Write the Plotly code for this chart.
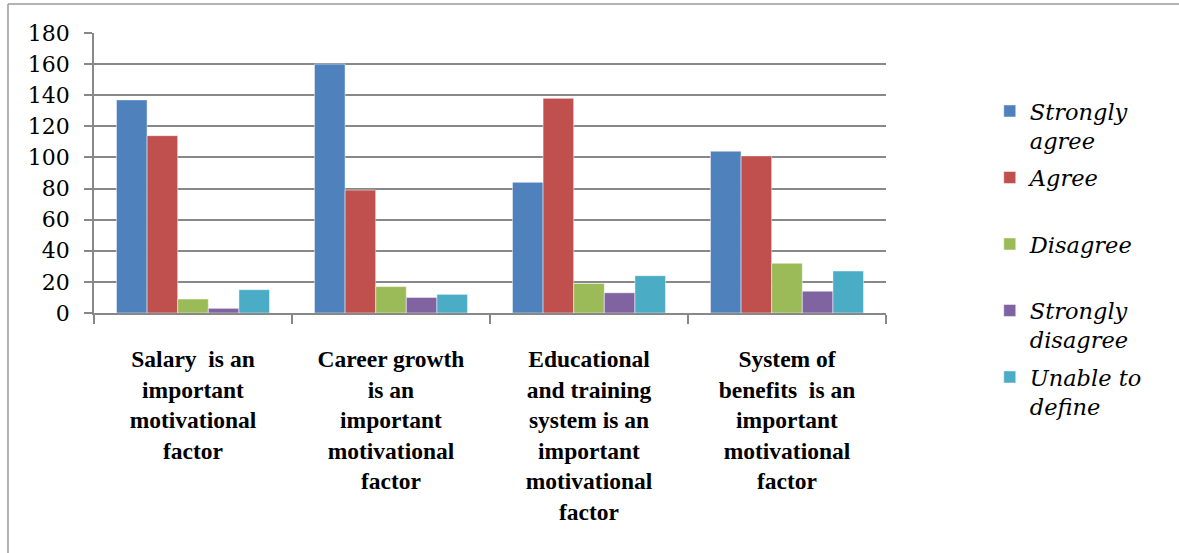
import plotly.graph_objects as go

categories = [
    "Salary  is an<br>important<br>motivational<br>factor",
    "Career growth<br>is an<br>important<br>motivational<br>factor",
    "Educational<br>and training<br>system is an<br>important<br>motivational<br>factor",
    "System of<br>benefits  is an<br>important<br>motivational<br>factor",
]
series_names = [
    "Strongly<br>agree",
    "Agree<br>\u00a0",
    "Disagree<br>\u00a0",
    "Strongly<br>disagree",
    "Unable to<br>define",
]
strongly_agree = [137, 160, 84, 104]
agree = [114, 79, 138, 101]
disagree = [9, 17, 19, 32]
strongly_disagree = [3, 10, 13, 14]
unable_to_define = [15, 12, 24, 27]
series_values = [strongly_agree, agree, disagree, strongly_disagree, unable_to_define]
colors = ["#4F81BD", "#C0504D", "#9BBB59", "#8064A2", "#4BACC6"]
y_ticks = [0, 20, 40, 60, 80, 100, 120, 140, 160, 180]

fig = go.Figure()
for i, (name, vals, col) in enumerate(zip(series_names, series_values, colors)):
    fig.add_trace(go.Bar(
        x=categories, y=vals, name=name, legendgroup=f"g{i}",
        marker=dict(color=col, line=dict(color="rgba(255,255,255,0.6)", width=0.8)),
    ))

grid_col = "#888888"
fig.update_layout(
    width=1179, height=553,
    margin=dict(l=94, r=293, t=33, b=240),
    paper_bgcolor="white", plot_bgcolor="white",
    barmode="group", bargap=0.227, bargroupgap=0,
    showlegend=True,
    legend=dict(
        x=1.131, y=0.797, xanchor="left", yanchor="top",
        valign="top", maxheight=520,
        font=dict(family="DejaVu Serif", size=22.5, color="black", style="italic"),
        bgcolor="rgba(0,0,0,0)",
        tracegroupgap=5,
    ),
    xaxis=dict(
        showline=True, linecolor=grid_col, linewidth=1.5,
        ticks="outside", tickson="boundaries", ticklen=9, tickcolor=grid_col, tickwidth=1.5,
        tickfont=dict(family="Liberation Serif", size=23.5, color="black", weight="bold"),
        ticklabelstandoff=24,
        showgrid=False,
    ),
    yaxis=dict(
        range=[0, 180], tickvals=y_ticks,
        showgrid=True, gridcolor=grid_col, gridwidth=1.5,
        showline=True, linecolor=grid_col, linewidth=1.5,
        ticks="outside", ticklen=8, tickcolor=grid_col, tickwidth=1.5,
        tickfont=dict(family="DejaVu Serif", size=22, color="black"),
        ticklabelstandoff=10,
        zeroline=False,
    ),
    shapes=[
        dict(type="line", xref="paper", yref="paper", x0=-0.1086, x1=1.6, y0=1.1036, y1=1.1036,
             line=dict(color="#9a9a9a", width=1.5)),
        dict(type="line", xref="paper", yref="paper", x0=-0.1086, x1=-0.1086, y0=1.1036, y1=-1.2,
             line=dict(color="#9a9a9a", width=1.5)),
    ],
)

fig.write_html("out.html")
